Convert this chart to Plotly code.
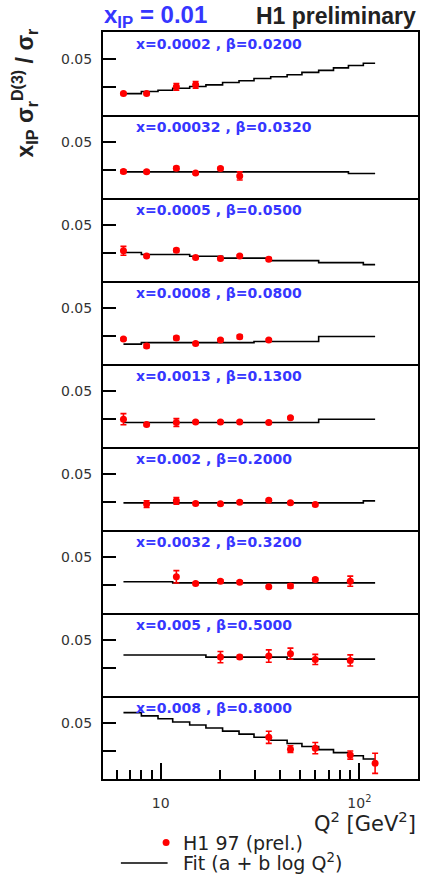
import plotly.graph_objects as go
from plotly.subplots import make_subplots

# ---------------- data ----------------
panel_labels = ["x=0.0002 , β=0.0200", "x=0.00032 , β=0.0320", "x=0.0005 , β=0.0500",
                "x=0.0008 , β=0.0800", "x=0.0013 , β=0.1300", "x=0.002 , β=0.2000",
                "x=0.0032 , β=0.3200", "x=0.005 , β=0.5000", "x=0.008 , β=0.8000"]

q2_p1 = [6.5, 8.5, 12, 15]
v_p1 = [0.0191, 0.0191, 0.0251, 0.0269]
e_p1 = [0.0010, 0.0010, 0.0030, 0.0030]

q2_p2 = [6.5, 8.5, 12, 15, 20, 25]
v_p2 = [0.0236, 0.0233, 0.0266, 0.0222, 0.0263, 0.0197]
e_p2 = [0.0015, 0.0012, 0.0015, 0.0010, 0.0010, 0.0036]

q2_p3 = [6.5, 8.5, 12, 15, 20, 25, 35]
v_p3 = [0.0269, 0.0224, 0.0275, 0.0209, 0.0200, 0.0224, 0.0195]
e_p3 = [0.0040, 0.0010, 0.0015, 0.0010, 0.0010, 0.0010, 0.0015]

q2_p4 = [6.5, 8.5, 12, 15, 20, 25, 35]
v_p4 = [0.0222, 0.0161, 0.0231, 0.0182, 0.0213, 0.0242, 0.0213]
e_p4 = [0.0010, 0.0015, 0.0015, 0.0010, 0.0010, 0.0015, 0.0010]

q2_p5 = [6.5, 8.5, 12, 15, 20, 25, 35, 45]
v_p5 = [0.0248, 0.0200, 0.0218, 0.0224, 0.0224, 0.0224, 0.0218, 0.0260]
e_p5 = [0.0050, 0.0010, 0.0035, 0.0010, 0.0010, 0.0010, 0.0010, 0.0010]

q2_p6 = [8.5, 12, 15, 20, 25, 35, 45, 60]
v_p6 = [0.0231, 0.0260, 0.0236, 0.0233, 0.0248, 0.0266, 0.0242, 0.0227]
e_p6 = [0.0030, 0.0030, 0.0010, 0.0010, 0.0010, 0.0010, 0.0010, 0.0010]

q2_p7 = [12, 15, 20, 25, 35, 45, 60, 90]
v_p7 = [0.0323, 0.0263, 0.0284, 0.0275, 0.0233, 0.0240, 0.0299, 0.0284]
e_p7 = [0.0055, 0.0010, 0.0012, 0.0012, 0.0010, 0.0020, 0.0010, 0.0045]

q2_p8 = [20, 25, 35, 45, 60, 90]
v_p8 = [0.0347, 0.0347, 0.0356, 0.0377, 0.0326, 0.0317]
e_p8 = [0.0050, 0.0015, 0.0055, 0.0050, 0.0045, 0.0050]

q2_p9 = [35, 45, 60, 90, 120]
v_p9 = [0.0372, 0.0266, 0.0275, 0.0213, 0.0140]
e_p9 = [0.0054, 0.0030, 0.0050, 0.0036, 0.0090]

# fit histogram bin edges (Q^2) and bin contents per panel
fit_edges = [6.5, 8.0, 9.7, 11.5, 14.0, 16.9, 20.5, 24.8, 29.5, 35.8, 43.3, 51.4,
             62.4, 74.1, 88.1, 104.7, 120]
fit_p1 = [0.0191, 0.0209, 0.0221, 0.0239, 0.0254, 0.0269, 0.0290, 0.0305,
          0.0326, 0.0341, 0.0359, 0.0380, 0.0398, 0.0420, 0.0441, 0.0462]
fit_p2 = [0.0233] * 14 + [0.0218] * 2
fit_p3 = [0.0254, 0.0236, 0.0236, 0.0236, 0.0221, 0.0221, 0.0204, 0.0204,
          0.0204, 0.0182, 0.0182, 0.0182, 0.0164, 0.0164, 0.0164, 0.0146]
fit_p4 = [0.0177, 0.0191, 0.0191, 0.0191, 0.0191, 0.0191, 0.0191, 0.0191,
          0.0200, 0.0200, 0.0200, 0.0200, 0.0245, 0.0245, 0.0245, 0.0245]
fit_p5 = [0.0218] * 12 + [0.0248] * 4
fit_p6 = [0.0242] * 15 + [0.0260]
fit_p7 = [0.0278] * 3 + [0.0269] * 13
fit_p8 = [0.0365] * 5 + [0.0347] * 5 + [0.0329] * 6
fit_p9 = [0.0592, 0.0563, 0.0537, 0.0508, 0.0481, 0.0455, 0.0427, 0.0400,
          0.0372, 0.0345, 0.0317, 0.0290, 0.0262, 0.0235, 0.0207, 0.0178]

panels = [(q2_p1, v_p1, e_p1, fit_p1), (q2_p2, v_p2, e_p2, fit_p2),
          (q2_p3, v_p3, e_p3, fit_p3), (q2_p4, v_p4, e_p4, fit_p4),
          (q2_p5, v_p5, e_p5, fit_p5), (q2_p6, v_p6, e_p6, fit_p6),
          (q2_p7, v_p7, e_p7, fit_p7), (q2_p8, v_p8, e_p8, fit_p8),
          (q2_p9, v_p9, e_p9, fit_p9)]

x_tickvals = [10, 100]
x_ticktext = ["10", "10<sup>2</sup>"]
x_minor = [6, 7, 8, 9, 20, 30, 40, 50, 60, 70, 80, 90, 200]
y_tickvals = [0.025, 0.05]
y_ticktext = ["", "0.05"]

# ---------------- figure ----------------
W, H = 424, 876
L, R, T, B = 103, 4, 32, 97
pw, ph = W - L - R, H - T - B
FONT = "Liberation Sans, Arial, sans-serif"
WIDE = "DejaVu Sans, Verdana, sans-serif"
BLUE = "#3636ff"


def px(xp):
    return (xp - L) / pw


def py(yp):
    return (H - B - yp) / ph


fig = make_subplots(rows=9, cols=1, shared_xaxes=True, vertical_spacing=0)

for i, (q, v, e, f) in enumerate(panels, start=1):
    fig.add_trace(go.Scatter(
        x=fit_edges, y=f + [f[-1]], mode="lines", line_shape="hv",
        line=dict(color="black", width=1.6), showlegend=False, hoverinfo="skip"),
        row=i, col=1)
    fig.add_trace(go.Scatter(
        x=q, y=v, mode="markers",
        marker=dict(color="red", size=7, symbol="circle"),
        error_y=dict(type="data", array=e, color="red", thickness=1.6, width=3),
        showlegend=False), row=i, col=1)

for i in range(1, 10):
    fig.update_yaxes(row=i, col=1, range=[0, 0.074], tickvals=y_tickvals,
                     ticktext=y_ticktext, ticks="inside", ticklen=13, tickwidth=1.5,
                     tickcolor="black", showline=True, mirror=True, linewidth=2,
                     linecolor="black", showgrid=False, zeroline=False,
                     ticklabelstandoff=6,
                     tickfont=dict(family=WIDE, size=14, color="#333"))
    fig.update_xaxes(row=i, col=1, type="log", range=[0.71, 2.295],
                     showline=True, mirror=(i == 1), linewidth=2, linecolor="black",
                     showgrid=False, zeroline=False,
                     tickvals=x_tickvals, ticktext=x_ticktext,
                     ticks="inside" if i == 9 else "", ticklen=16, tickwidth=1.5,
                     tickcolor="black", showticklabels=(i == 9),
                     ticklabelstandoff=10,
                     tickfont=dict(family=WIDE, size=14, color="#333"))

fig.update_xaxes(row=9, col=1,
                 minor=dict(tickvals=x_minor, ticks="inside", ticklen=9,
                            tickwidth=1.5, tickcolor="black", showgrid=False))

ann = []
for i, lab in enumerate(panel_labels, start=1):
    xr = "x domain" if i == 1 else f"x{i} domain"
    yr = "y domain" if i == 1 else f"y{i} domain"
    ann.append(dict(text=f"<b>{lab}</b>", xref=xr, yref=yr, x=px(134), y=0.85,
                    xanchor="left", yanchor="middle", showarrow=False,
                    font=dict(family=WIDE, size=14, color=BLUE)))

ann += [
    dict(text="<b>x<sub>IP</sub> = 0.01</b>", xref="paper", yref="paper",
         x=px(102), y=py(17), xanchor="left", yanchor="middle", showarrow=False,
         font=dict(family=FONT, size=24, color=BLUE)),
    dict(text="<b>H1 preliminary</b>", xref="paper", yref="paper",
         x=px(420), y=py(16), xanchor="right", yanchor="middle", showarrow=False,
         font=dict(family=FONT, size=23, color="#222")),
    dict(text="<b>x<sub>IP</sub> σ<sub>r</sub><sup>D(3)</sup> / σ<sub>r</sub></b>",
         xref="paper", yref="paper", x=px(24), y=py(92), textangle=-90,
         xanchor="center", yanchor="middle", showarrow=False,
         font=dict(family=FONT, size=23, color="#222")),
    dict(text="Q<sup>2</sup> [GeV<sup>2</sup>]", xref="paper", yref="paper",
         x=px(420), y=py(822), xanchor="right", yanchor="middle", showarrow=False,
         font=dict(family=WIDE, size=21, color="#222")),
    dict(text="H1 97 (prel.)", xref="paper", yref="paper",
         x=px(181), y=py(843), xanchor="left", yanchor="middle", showarrow=False,
         font=dict(family=WIDE, size=19, color="#222")),
    dict(text="Fit (a + b log Q<sup>2</sup>)", xref="paper", yref="paper",
         x=px(181), y=py(862), xanchor="left", yanchor="middle", showarrow=False,
         font=dict(family=WIDE, size=19, color="#222")),
]

shapes = [
    dict(type="circle", xref="paper", yref="paper",
         x0=px(163), x1=px(170), y0=py(846), y1=py(839),
         fillcolor="red", line=dict(color="red", width=0)),
    dict(type="line", xref="paper", yref="paper",
         x0=px(121), x1=px(168), y0=py(863), y1=py(863),
         line=dict(color="black", width=1.6)),
]

fig.update_layout(width=W, height=H, margin=dict(l=L, r=R, t=T, b=B),
                  paper_bgcolor="white", plot_bgcolor="rgba(0,0,0,0)",
                  annotations=ann, shapes=shapes, showlegend=False,
                  font=dict(family=FONT))

fig.write_html("out.html", config={"displayModeBar": False},
               post_script="document.body.style.margin='0';"
                           "document.body.style.overflow='hidden';")
